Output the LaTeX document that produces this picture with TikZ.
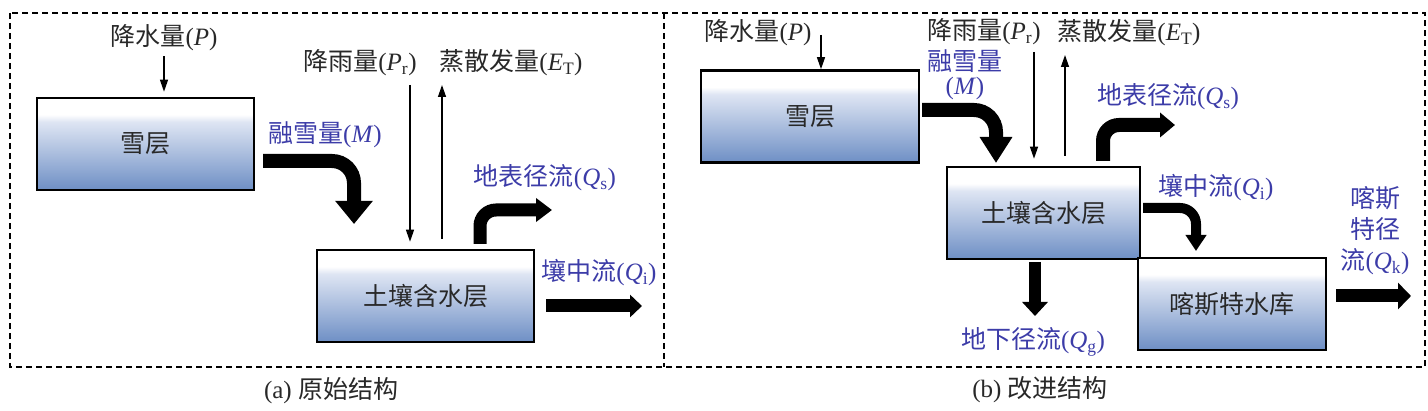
\documentclass[tikz,border=0pt]{standalone}
\usepackage{fontspec}
\setmainfont{Liberation Serif}
\newfontfamily\cjk{Noto Sans CJK SC}
\usetikzlibrary{arrows.meta}

\definecolor{labelblue}{RGB}{60,60,168}
\definecolor{textgray}{RGB}{40,40,40}
\definecolor{layertop}{RGB}{222,229,243}
\definecolor{layerbottom}{RGB}{110,143,197}
\pgfdeclareverticalshading{layerfill}{100bp}{color(0bp)=(layerbottom); color(25bp)=(layerbottom); color(62bp)=(layertop); color(66bp)=(white); color(100bp)=(white)}
\newcommand{\zh}[1]{{\cjk #1}}

\begin{document}
\begin{tikzpicture}[
x=1pt, y=-1pt,
font=\fontsize{25}{31}\selectfont,
layer/.style={rectangle, draw, line width=2.6pt, shading=layerfill, minimum height=92pt, text=textgray},
lbl/.style={text=textgray, inner sep=1pt, align=center},
flowlbl/.style={lbl, text=labelblue},
arrow/.style={line width=1.3pt, -{Triangle[length=12pt, width=8pt]}},
bigarrow/.style={rounded corners=22pt},
frame/.style={line width=1.6pt, dash pattern=on 6pt off 4pt}
]

\useasboundingbox (0,0) rectangle (1428,411);
\draw[frame] (10,13) rectangle (1425,367);
\draw[frame] (664,13) -- (664,367);

% (a) original structure
\node[layer, minimum width=217pt] (snowa) at (145.5,144) {\raisebox{-4pt}{\zh{雪层}}};
\node[layer, minimum width=217pt] (soila) at (425.5,296) {\raisebox{-5pt}{\zh{土壤含水层}}};

\node[lbl] (pa) at (164,38) {\zh{降水量}(\textit{P})};
\node[lbl] (pra) at (360,63) {\zh{降雨量}(\textit{P}\textsubscript{r})};
\node[lbl] (eta) at (511,63) {\zh{蒸散发量}(\textit{E}\textsubscript{T})};
\node[flowlbl] (melta) at (325,135) {\zh{融雪量}(\textit{M})};
\node[flowlbl] (qsa) at (545,178) {\zh{地表径流}(\textit{Q}\textsubscript{s})};
\node[flowlbl] (qia) at (599,273) {\zh{壤中流}(\textit{Q}\textsubscript{i})};
\node[lbl] (capa) at (331,391) {(a) \zh{原始结构}};

\coordinate (rainain) at (410,85);
\coordinate (etaout) at (442,85);
\coordinate (meltain) at (263,161);
\coordinate (meltaout) at (354,224);
\coordinate (qsain) at (480,244);
\coordinate (qsaout) at (552,210);
\coordinate (qiain) at (546,306);
\coordinate (qiaout) at (642,306);

\draw[arrow, shorten <=4pt, shorten >=5pt] (pa) -- (pa |- snowa.north);
\draw[arrow, shorten >=7pt] (rainain) -- (rainain |- soila.north);
\draw[arrow, shorten <=10pt] (etaout |- soila.north) -- (etaout);
\draw[bigarrow, line width=14pt, -{Triangle[width=36pt, length=23pt]}] (meltain) -| (meltaout);
\draw[bigarrow, rounded corners=16pt, line width=13pt, -{Triangle[width=23pt, length=16pt]}] (qsain) |- (qsaout);
\draw[line width=13pt, -{Triangle[width=22pt, length=12pt]}] (qiain) -- (qiaout);

% (b) improved structure
\node[layer, minimum width=218pt] (snowb) at (810,116.5) {\raisebox{-4pt}{\zh{雪层}}};
\node[layer, minimum width=193pt] (soilb) at (1043.5,213) {\raisebox{-5pt}{\zh{土壤含水层}}};
\node[layer, minimum width=188pt] (karst) at (1232,304) {\raisebox{-6pt}{\zh{喀斯特水库}}};

\node[lbl] (pb) at (758,33) {\zh{降水量}(\textit{P})};
\node[lbl] (prb) at (984,32) {\zh{降雨量}(\textit{P}\textsubscript{r})};
\node[lbl] (etb) at (1129,33) {\zh{蒸散发量}(\textit{E}\textsubscript{T})};
\node[flowlbl, font=\fontsize{25}{24}\selectfont] (meltb) at (965,75) {\zh{融雪量}\\(\textit{M})};
\node[flowlbl] (qsb) at (1168,97) {\zh{地表径流}(\textit{Q}\textsubscript{s})};
\node[flowlbl] (qib) at (1216,188) {\zh{壤中流}(\textit{Q}\textsubscript{i})};
\node[flowlbl] (qgb) at (1033,342) {\zh{地下径流}(\textit{Q}\textsubscript{g})};
\node[flowlbl] (qkb) at (1375,231) {\zh{喀斯}\\\zh{特径}\\\zh{流}(\textit{Q}\textsubscript{k})};
\node[lbl] (capb) at (1040,390) {(b) \zh{改进结构}};

\coordinate (snowbin) at (821,35);
\coordinate (rainbin) at (1034,52);
\coordinate (etbout) at (1065,55);
\coordinate (meltbin) at (922,110);
\coordinate (meltbout) at (996,163);
\coordinate (qsbin) at (1103,161);
\coordinate (qsbout) at (1175,125);
\coordinate (qibin) at (1143,208);
\coordinate (qibout) at (1196,251);
\coordinate (qgbin) at (1035,262);
\coordinate (qgbout) at (1035,316);
\coordinate (qkbin) at (1336,296);
\coordinate (qkbout) at (1411,296);

\draw[arrow] (snowbin) -- (snowbin |- snowb.north);
\draw[arrow, shorten >=7pt] (rainbin) -- (rainbin |- soilb.north);
\draw[arrow, shorten <=10pt] (etbout |- soilb.north) -- (etbout);
\draw[bigarrow, line width=14pt, -{Triangle[width=31pt, length=26pt]}] (meltbin) -| (meltbout);
\draw[bigarrow, rounded corners=16pt, line width=14pt, -{Triangle[width=24pt, length=15pt]}] (qsbin) |- (qsbout);
\draw[bigarrow, rounded corners=16pt, line width=10pt, -{Triangle[width=20pt, length=16pt]}] (qibin) -| (qibout);
\draw[line width=12pt, -{Triangle[width=25pt, length=14pt]}] (qgbin) -- (qgbout);
\draw[line width=13pt, -{Triangle[width=26pt, length=13pt]}] (qkbin) -- (qkbout);

\end{tikzpicture}
\end{document}
